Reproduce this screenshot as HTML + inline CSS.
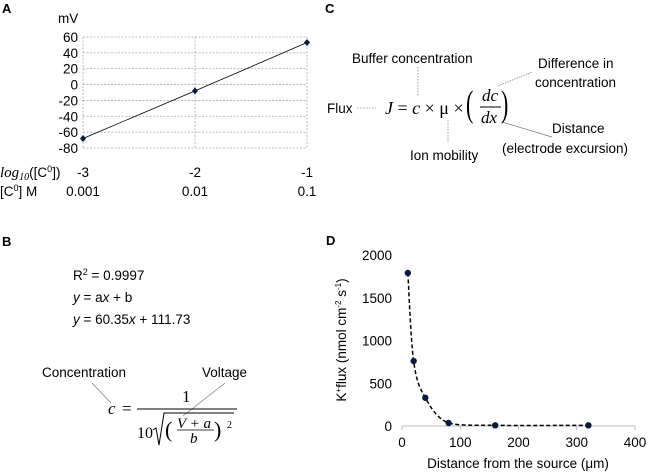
<!DOCTYPE html>
<html><head><meta charset="utf-8"><style>
body{margin:0;background:#fff}
svg{display:block;font-family:"Liberation Sans",sans-serif}
.t{font-size:13.5px;fill:#000}
.m{font-family:"Liberation Serif",serif;font-style:italic}
</style></head><body>
<svg width="650" height="476" viewBox="0 0 650 476">
<g id="pa">
<text x="2" y="13" font-weight="bold" font-size="13">A</text>
<text x="58" y="23" class="t">mV</text>
<g id="gA"></g>
<text x="0" y="177" class="t"><tspan class="m" font-size="15">log</tspan><tspan class="m" font-size="10" dy="3">10</tspan><tspan dy="-3">([C</tspan><tspan font-size="9" dy="-5">0</tspan><tspan dy="5">])</tspan></text>
<text x="0" y="196" class="t">[C<tspan font-size="9" dy="-5">0</tspan><tspan dy="5">] M</tspan></text>
</g>
<g>
<text x="2" y="246" font-weight="bold" font-size="13">B</text>
<text x="73" y="280" class="t">R<tspan font-size="9" dy="-5">2</tspan><tspan dy="5"> = 0.9997</tspan></text>
<text x="73" y="302" class="t"><tspan font-style="italic">y</tspan> = a<tspan font-style="italic">x</tspan> + b</text>
<text x="73" y="324" class="t"><tspan font-style="italic">y</tspan> = 60.35<tspan font-style="italic">x</tspan> + 111.73</text>
<text x="42" y="377" class="t">Concentration</text>
<text x="202" y="377" class="t">Voltage</text>
<line x1="92" y1="383" x2="111" y2="403" stroke="#777" stroke-width="0.7"/>
<line x1="225" y1="383" x2="183" y2="416" stroke="#777" stroke-width="0.7"/>
<text x="108" y="414" class="m" font-size="17">c</text>
<text x="122" y="414" font-family="Liberation Serif" font-size="17">=</text>
<text x="182" y="402" font-family="Liberation Serif" font-size="17">1</text>
<line x1="137" y1="409" x2="237" y2="409" stroke="#000" stroke-width="1"/>
<text x="137" y="438" font-family="Liberation Serif" font-size="16">10</text>
<path d="M153 430 L156 428 L159 445 L164 413 L234 413" fill="none" stroke="#000" stroke-width="1"/>
<text x="165" y="437" font-family="Liberation Serif" font-size="22">(</text>
<text x="177" y="428" class="m" font-size="15">V + a</text>
<line x1="177" y1="430" x2="214" y2="430" stroke="#000" stroke-width="0.8"/>
<text x="190" y="443" class="m" font-size="15">b</text>
<text x="214" y="437" font-family="Liberation Serif" font-size="22">)</text>
<text x="227" y="428" font-family="Liberation Serif" font-size="10">2</text>
</g>
<g>
<text x="325" y="13" font-weight="bold" font-size="13">C</text>
<text x="352" y="63" class="t">Buffer concentration</text>
<text x="538" y="68" class="t">Difference in</text>
<text x="535" y="87" class="t">concentration</text>
<text x="327" y="113" class="t">Flux</text>
<text x="552" y="133" class="t">Distance</text>
<text x="502" y="153" class="t">(electrode excursion)</text>
<text x="410" y="160" class="t">Ion mobility</text>
<line x1="418" y1="67" x2="418" y2="96" stroke="#888" stroke-dasharray="1.5,1.5" stroke-width="0.8"/>
<line x1="448" y1="120" x2="448" y2="142" stroke="#888" stroke-dasharray="1.5,1.5" stroke-width="0.8"/>
<line x1="357" y1="108" x2="376" y2="108" stroke="#999" stroke-dasharray="1.5,1.5" stroke-width="0.8"/>
<line x1="498" y1="86" x2="532" y2="72" stroke="#777" stroke-dasharray="1.5,1" stroke-width="0.7"/>
<line x1="502" y1="122" x2="552" y2="137" stroke="#777" stroke-width="0.7"/>
<text x="385" y="114" font-family="Liberation Serif" font-size="18"><tspan font-style="italic">J</tspan> = <tspan font-style="italic">c</tspan> × μ ×</text>
<text x="0" y="0" font-family="Liberation Serif" font-size="22" transform="translate(466,116) scale(1,1.7)">(</text>
<text x="482" y="101" class="m" font-size="17">dc</text>
<line x1="480" y1="107" x2="501" y2="107" stroke="#000" stroke-width="0.9"/>
<text x="481" y="123" class="m" font-size="17">dx</text>
<text x="0" y="0" font-family="Liberation Serif" font-size="22" transform="translate(501,116) scale(1,1.7)">)</text>
</g>
<g>
<text x="326" y="245" font-weight="bold" font-size="13">D</text>
<g id="gD"></g>
<text x="518" y="468" class="t" text-anchor="middle">Distance from the source (μm)</text>
<text transform="translate(346,340) rotate(-90)" class="t" text-anchor="middle">K<tspan font-size="8" dy="-5">+</tspan><tspan dy="5">flux (nmol cm</tspan><tspan font-size="8" dy="-5">-2</tspan><tspan dy="5"> s</tspan><tspan font-size="8" dy="-5">-1</tspan><tspan dy="5">)</tspan></text>
</g>
</svg>
<script>
const aX=[-3,-2,-1];
const aY=[-68,-8,53];
const aYTicks=[60,40,20,0,-20,-40,-60,-80];
const aConc=["0.001","0.01","0.1"];
const dX=[10,20,40,80,160,320];
const dY=[1790,760,330,35,8,8];
const dXTicks=[0,100,200,300,400];
const dYTicks=[0,500,1000,1500,2000];
const NS="http://www.w3.org/2000/svg";
function mk(p,tag,at){const e=document.createElementNS(NS,tag);for(const k in at)e.setAttribute(k,at[k]);p.appendChild(e);return e;}
// Panel A
const gA=document.getElementById('gA');
const ax=v=>83+(v+3)*112, ay=v=>148-(v+80)*(111/140);
aYTicks.forEach(t=>{const l=mk(gA,'line',{x1:83,x2:307,y1:ay(t),y2:ay(t),stroke:'#aaa','stroke-dasharray':'2,1.5','stroke-width':0.8});


const tx=mk(gA,'text',{x:78,y:ay(t)+5,'text-anchor':'end',class:'t'});tx.textContent=t;

});
aX.forEach((v,i)=>{const l=mk(gA,'line',{x1:ax(v),x2:ax(v),y1:ay(60),y2:ay(-80),stroke:'#aaa','stroke-dasharray':'2,1.5','stroke-width':0.8});


const t1=mk(gA,'text',{x:ax(v),y:177,'text-anchor':'middle',class:'t'});t1.textContent=v;


const t2=mk(gA,'text',{x:ax(v),y:196,'text-anchor':'middle',class:'t'});t2.textContent=aConc[i];

});
const la=mk(gA,'polyline',{points:aX.map((v,i)=>ax(v)+','+ay(aY[i])).join(' '),fill:'none',stroke:'#000','stroke-width':0.8});


aX.forEach((v,i)=>{const c=mk(gA,'path',{d:`M${ax(v)} ${ay(aY[i])-3.5}l3 3.5l-3 3.5l-3-3.5z`,fill:'#0a1a3a'});

});
// Panel D
const gD=document.getElementById('gD');
const dx=v=>402+v*(233/400), dy=v=>426-v*(171/2000);
mk(gD,'line',{x1:402,x2:635,y1:426,y2:426,stroke:'#bbb'});
dXTicks.forEach(t=>{mk(gD,'line',{x1:dx(t),x2:dx(t),y1:426,y2:430,stroke:'#bbb'});
const tx=mk(gD,'text',{x:dx(t),y:447,'text-anchor':'middle',class:'t'});tx.textContent=t;

});
dYTicks.forEach(t=>{const tx=mk(gD,'text',{x:392,y:dy(t)+5,'text-anchor':'end',class:'t'});tx.textContent=t;

});
let pts=dX.map((v,i)=>[dx(v),dy(dY[i])]);
let d=`M${pts[0][0]} ${pts[0][1]}`;
for(let i=0;i<pts.length-1;i++){const p0=pts[Math.max(0,i-1)],p1=pts[i],p2=pts[i+1],p3=pts[Math.min(pts.length-1,i+2)];
let c1=[p1[0]+(p2[0]-p0[0])/6,Math.min(426,p1[1]+(p2[1]-p0[1])/6)],c2=[p2[0]-(p3[0]-p1[0])/6,Math.min(426,p2[1]-(p3[1]-p1[1])/6)];
d+=` C${c1[0]} ${c1[1]} ${c2[0]} ${c2[1]} ${p2[0]} ${p2[1]}`;}
const cur=mk(gD,'path',{d:d,fill:'none',stroke:'#000','stroke-width':1.5,'stroke-dasharray':'4,2.5'});


pts.forEach(p=>{const c=mk(gD,'circle',{cx:p[0],cy:p[1],r:3.2,fill:'#0a1a3a'});

});
</script>
</body></html>
